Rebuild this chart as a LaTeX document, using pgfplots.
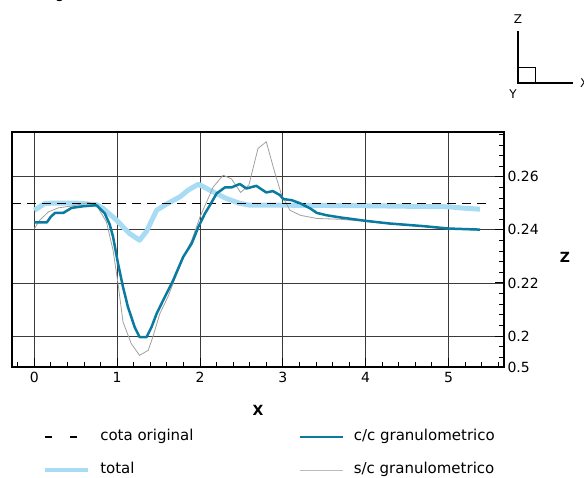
\documentclass[border=0pt]{standalone}
\usepackage{fontspec}
\setmainfont{DejaVu Sans}
\usepackage{pgfplots}
\pgfplotsset{compat=1.18}
\definecolor{ccblue}{HTML}{0A7AA0}
\definecolor{totblue}{HTML}{A8DCF5}
\definecolor{scgray}{HTML}{A0A0A0}
\definecolor{gridc}{HTML}{3A3A3A}
\begin{document}
\begin{tikzpicture}[x=1pt,y=1pt]
\useasboundingbox (-12,-111) rectangle (572,367);
\clip (-12,-111) rectangle (572,367);
\begin{axis}[
  at={(0,0)}, anchor=south west,
  scale only axis, width=492pt, height=235pt,
  xmin=-0.27, xmax=5.67, ymin=0.1883, ymax=0.2769,
  font=\fontsize{14}{16}\selectfont,
  /pgf/number format/assume math mode=true,
  xtick={0,1,2,3,4,5},
  xticklabels={0,1,2,3,4,5},
  minor xtick={-0.2,0,0.2,...,5.6},
  ytick={0.2,0.22,0.24,0.26},
  yticklabels={0.2,0.22,0.24,0.26},
  minor ytick={0.192,0.196,...,0.2761},
  extra y ticks={0.1883},
  extra y tick labels={0.5},
  extra y tick style={grid=none, major tick length=0pt},
  xtick pos=bottom, ytick pos=right,
  yticklabel pos=right,
  tick align=inside,
  major tick length=9pt, minor tick length=5pt,
  every tick/.style={black, line width=0.9pt},
  xmajorgrids, ymajorgrids,
  major grid style={gridc, line width=0.8pt},
  axis line style={black, line width=1.4pt},
  xticklabel style={yshift=-2pt},
  xlabel={\textbf{X}},
  xlabel style={at={(axis description cs:0.5,-0.183)}, anchor=center},
  ylabel={\textbf{Z}},
  ylabel style={at={(axis description cs:1.124,0.468)}, rotate=-90, anchor=center},
  legend columns=2,
  legend style={at={(axis description cs:0.056,-0.245)}, anchor=north west,
    draw=none, fill=none, row sep=16pt, font=\fontsize{15}{17}\selectfont,
    cells={anchor=west}},
  legend image code/.code={\draw[#1] (0pt,-2pt) -- (43pt,-2pt);},
]
\addlegendimage{black, line width=1.6pt, dash pattern=on 7pt off 18pt}
\addlegendentry{\makebox[204pt][l]{\hspace*{8pt}cota original}}
\addlegendimage{ccblue, line width=2.5pt}
\addlegendentry{\hspace*{8pt}c/c granulometrico}
\addlegendimage{totblue, line width=4.5pt}
\addlegendentry{\makebox[204pt][l]{\hspace*{8pt}total}}
\addlegendimage{scgray!70, line width=0.9pt}
\addlegendentry{\hspace*{8pt}s/c granulometrico}

% total
\addplot[totblue, line width=5pt, line join=round, forget plot] coordinates {
(0,0.2474) (0.13,0.2500) (0.3,0.2501) (0.5,0.2501) (0.75,0.2495) (0.83,0.2481)
(0.99,0.2437) (1.15,0.2386) (1.27,0.2361) (1.355,0.2395) (1.476,0.2474)
(1.6,0.2498) (1.76,0.2525) (1.857,0.2550) (1.98,0.2572) (2.16,0.2543)
(2.32,0.2518) (2.48,0.2500) (2.6,0.2493) (3.0,0.2493) (4.0,0.2491)
(5.0,0.2487) (5.22,0.2481) (5.38,0.2478)};

% s/c granulometrico
\addplot[scgray, line width=0.8pt, forget plot] coordinates {
(0,0.2405) (0.066,0.2437) (0.17,0.2468) (0.29,0.2483) (0.45,0.2490) (0.65,0.2503)
(0.75,0.2493) (0.87,0.2430) (0.95,0.2323) (1.01,0.2198) (1.07,0.2053) (1.17,0.1971)
(1.27,0.1927) (1.375,0.1946) (1.43,0.1996) (1.515,0.2084) (1.616,0.2150) (1.72,0.2235)
(1.82,0.2310) (1.90,0.2361) (2.0,0.2449) (2.16,0.2562) (2.28,0.2606) (2.38,0.2592)
(2.49,0.2541) (2.59,0.2569) (2.70,0.2707) (2.80,0.2732) (2.90,0.2619) (2.985,0.2531)
(3.086,0.2474) (3.21,0.2455) (3.41,0.2443) (3.69,0.2440) (4.0,0.2432) (4.29,0.2422)
(4.70,0.2412) (5.0,0.2403) (5.38,0.2399)};

% cota original
\addplot[black, line width=1.5pt, dash pattern=on 9pt off 6pt, forget plot] coordinates {
(-0.27,0.25) (5.5,0.25)};

% c/c granulometrico
\addplot[ccblue, line width=2.5pt, line join=round, forget plot] coordinates {
(0,0.2428) (0.15,0.2428) (0.2,0.2450) (0.25,0.2464) (0.35,0.2464) (0.45,0.2483)
(0.59,0.2489) (0.75,0.2493) (0.85,0.2462) (0.91,0.2420) (0.95,0.2374) (1.01,0.2273)
(1.07,0.2185) (1.13,0.2109) (1.21,0.2034) (1.27,0.1996) (1.355,0.1996) (1.415,0.2034)
(1.476,0.2084) (1.556,0.2135) (1.676,0.2210) (1.797,0.2298) (1.90,0.2349) (1.98,0.2411)
(2.06,0.2462) (2.12,0.2493) (2.20,0.2537) (2.30,0.2560) (2.38,0.2560) (2.48,0.2573)
(2.56,0.2556) (2.68,0.2566) (2.80,0.2541) (2.88,0.2546) (2.965,0.2531) (3.005,0.2516)
(3.106,0.2512) (3.21,0.2500) (3.33,0.2481) (3.41,0.2464) (3.53,0.2455) (3.69,0.2447)
(4.0,0.2434) (4.29,0.2424) (4.70,0.2414) (5.0,0.2405) (5.38,0.2401)};
\end{axis}
% cut-off caption fragment at the top edge
\node[font=\fontsize{15}{17}\selectfont, anchor=base, inner sep=0pt] at (48,368) {g};
% orientation triad
\draw[black, line width=1.2pt] (506,336) -- (506,284) -- (561,284);
\draw[black, line width=0.7pt] (506,300) rectangle (523,284);
\node[font=\fontsize{12}{14}\selectfont] at (506,348) {Z};
\node[font=\fontsize{12}{14}\selectfont] at (501,273) {Y};
\node[font=\fontsize{12}{14}\selectfont, anchor=west, inner sep=0pt] at (568,284) {X};
\end{tikzpicture}
\end{document}
